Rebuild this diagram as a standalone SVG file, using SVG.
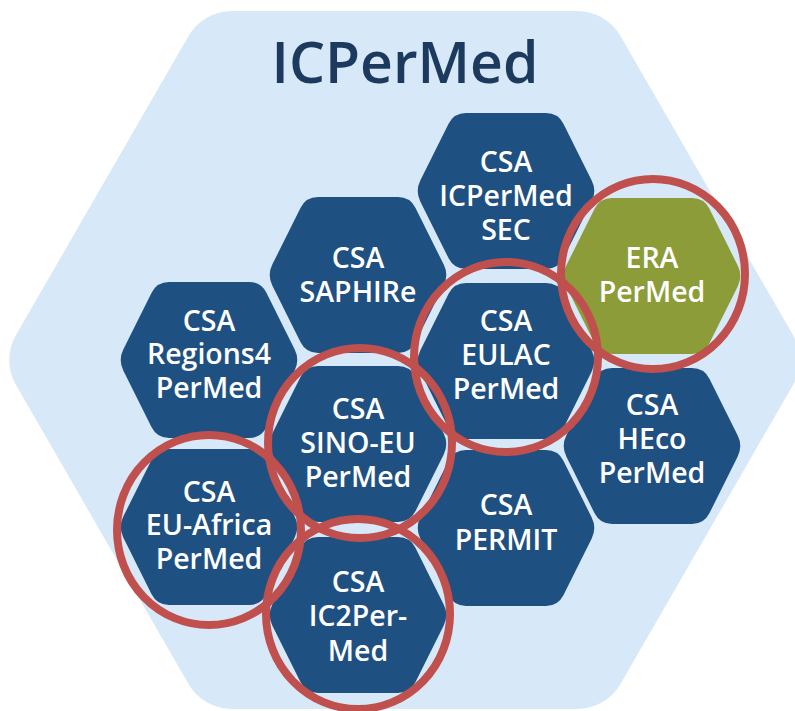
<svg xmlns="http://www.w3.org/2000/svg" xmlns:xlink="http://www.w3.org/1999/xlink" width="795" height="711" viewBox="0 0 795 711">
  <style>
    .frame { fill: #d7e9f8; }
    .hex { fill: #1f5082; }
    .hex.lead { fill: #8b9c38; }
    .label { font-family: "Open Sans", "Liberation Sans", sans-serif; font-weight: 600; font-size: 28.5px; fill: #ffffff; text-anchor: middle; }
    .title { font-family: "Open Sans", "Liberation Sans", sans-serif; font-weight: 600; font-size: 57px; fill: #1b3a5e; text-anchor: middle; }
    .ring { fill: none; stroke: #c0504d; stroke-width: 8; }
  </style>
  <defs>
    <!-- rounded hexagon cell, centred on the origin -->
    <path id="cell" d="M-40,-78 H40 Q52,-78 57.4,-67.3 L85.6,-10.7 Q91,0 85.6,10.7 L57.4,67.3 Q52,78 40,78 H-40 Q-52,78 -57.4,67.3 L-85.6,10.7 Q-91,0 -85.6,-10.7 L-57.4,-67.3 Q-52,-78 -40,-78 Z"/>
  </defs>

  <!-- programme outline -->
  <path class="frame" d="M232,11 L577,11 A50,50 0 0 1 620.5,36.1 L793,334.9 A50,50 0 0 1 793,385.1 L620.5,683.9 A50,50 0 0 1 577,709 L232,709 A50,50 0 0 1 188.5,683.9 L16,385.1 A50,50 0 0 1 16,334.9 L188.5,36.1 A50,50 0 0 1 232,11 Z"/>
  <text class="title" x="405" y="83">ICPerMed</text>

  <g id="csa-icpermed-sec">
    <use xlink:href="#cell" class="hex" x="506" y="191"/>
    <text class="label" x="506"><tspan x="506" y="172">CSA</tspan><tspan x="506" y="206">ICPerMed</tspan><tspan x="506" y="240">SEC</tspan></text>
  </g>
  <g id="csa-saphire">
    <use xlink:href="#cell" class="hex" x="358" y="275"/>
    <text class="label"><tspan x="358" y="268">CSA</tspan><tspan x="358" y="302">SAPHIRe</tspan></text>
  </g>
  <g id="era-permed">
    <use xlink:href="#cell" class="hex lead" x="652" y="276"/>
    <text class="label"><tspan x="652" y="268">ERA</tspan><tspan x="652" y="302">PerMed</tspan></text>
  </g>
  <g id="csa-regions4-permed">
    <use xlink:href="#cell" class="hex" x="209" y="360"/>
    <text class="label"><tspan x="209" y="331">CSA</tspan><tspan x="209" y="364">Regions4</tspan><tspan x="209" y="398">PerMed</tspan></text>
  </g>
  <g id="csa-eulac-permed">
    <use xlink:href="#cell" class="hex" x="506" y="361"/>
    <text class="label"><tspan x="506" y="331">CSA</tspan><tspan x="506" y="365">EULAC</tspan><tspan x="506" y="399">PerMed</tspan></text>
  </g>
  <g id="csa-sino-eu-permed">
    <use xlink:href="#cell" class="hex" x="358" y="444"/>
    <text class="label"><tspan x="358" y="419">CSA</tspan><tspan x="358" y="453">SINO-EU</tspan><tspan x="358" y="487">PerMed</tspan></text>
  </g>
  <g id="csa-heco-permed">
    <use xlink:href="#cell" class="hex" x="652" y="446"/>
    <text class="label"><tspan x="652" y="415">CSA</tspan><tspan x="652" y="449">HEco</tspan><tspan x="652" y="483">PerMed</tspan></text>
  </g>
  <g id="csa-eu-africa-permed">
    <use xlink:href="#cell" class="hex" x="209" y="527"/>
    <text class="label"><tspan x="209" y="502">CSA</tspan><tspan x="209" y="535">EU-Africa</tspan><tspan x="209" y="569">PerMed</tspan></text>
  </g>
  <g id="csa-permit">
    <use xlink:href="#cell" class="hex" x="506" y="528"/>
    <text class="label"><tspan x="506" y="515">CSA</tspan><tspan x="506" y="550">PERMIT</tspan></text>
  </g>
  <g id="csa-ic2per-med">
    <use xlink:href="#cell" class="hex" x="358" y="615"/>
    <text class="label"><tspan x="358" y="592">CSA</tspan><tspan x="358" y="626">IC2Per-</tspan><tspan x="358" y="661">Med</tspan></text>
  </g>

  <!-- highlight rings -->
  <g id="highlights">
    <ellipse class="ring" cx="653" cy="274" rx="92" ry="95"/>
    <ellipse class="ring" cx="506" cy="357" rx="92" ry="95"/>
    <ellipse class="ring" cx="360" cy="443" rx="92" ry="95"/>
    <ellipse class="ring" cx="209" cy="530" rx="92" ry="95"/>
    <ellipse class="ring" cx="358" cy="614" rx="92" ry="95"/>
  </g>
</svg>
